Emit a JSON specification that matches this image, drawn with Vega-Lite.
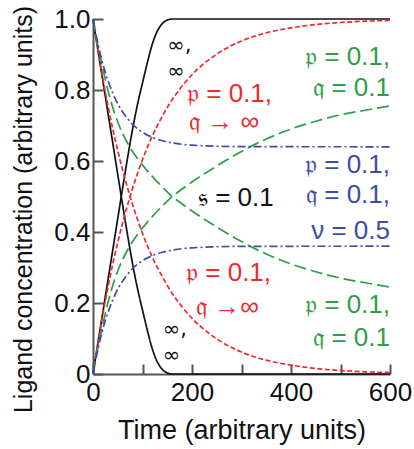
{
  "$schema": "https://vega.github.io/schema/vega-lite/v6.json",
  "width": 297,
  "height": 355,
  "autosize": {"type": "none"},
  "padding": {"left": 93, "top": 19, "right": 24, "bottom": 75},
  "background": "white",
  "config": {
    "view": {"stroke": null},
    "font": "Liberation Sans",
    "axis": {"grid": false, "domainColor": "#555", "tickColor": "#555", "domainWidth": 2, "tickWidth": 2, "labelColor": "#111", "titleColor": "#111", "titleFontWeight": "normal", "labelFlush": false, "labelOverlap": false}
  },
  "layer": [
    {
      "data": {"values": [
        {"g":"inf","d":"dn","t":0,"v":1},{"g":"inf","d":"dn","t":10,"v":0.912},{"g":"inf","d":"dn","t":20,"v":0.825},{"g":"inf","d":"dn","t":30,"v":0.737},{"g":"inf","d":"dn","t":40,"v":0.65},{"g":"inf","d":"dn","t":50,"v":0.562},{"g":"inf","d":"dn","t":60,"v":0.475},{"g":"inf","d":"dn","t":70,"v":0.39},{"g":"inf","d":"dn","t":80,"v":0.31},{"g":"inf","d":"dn","t":90,"v":0.24},{"g":"inf","d":"dn","t":100,"v":0.18},{"g":"inf","d":"dn","t":110,"v":0.122},{"g":"inf","d":"dn","t":120,"v":0.07},{"g":"inf","d":"dn","t":130,"v":0.034},{"g":"inf","d":"dn","t":140,"v":0.013},{"g":"inf","d":"dn","t":150,"v":0.003},{"g":"inf","d":"dn","t":160,"v":0},{"g":"inf","d":"dn","t":600,"v":0},
        {"g":"inf","d":"up","t":0,"v":0},{"g":"inf","d":"up","t":10,"v":0.088},{"g":"inf","d":"up","t":20,"v":0.175},{"g":"inf","d":"up","t":30,"v":0.263},{"g":"inf","d":"up","t":40,"v":0.35},{"g":"inf","d":"up","t":50,"v":0.438},{"g":"inf","d":"up","t":60,"v":0.525},{"g":"inf","d":"up","t":70,"v":0.61},{"g":"inf","d":"up","t":80,"v":0.69},{"g":"inf","d":"up","t":90,"v":0.76},{"g":"inf","d":"up","t":100,"v":0.82},{"g":"inf","d":"up","t":110,"v":0.878},{"g":"inf","d":"up","t":120,"v":0.93},{"g":"inf","d":"up","t":130,"v":0.966},{"g":"inf","d":"up","t":140,"v":0.987},{"g":"inf","d":"up","t":150,"v":0.997},{"g":"inf","d":"up","t":160,"v":1},{"g":"inf","d":"up","t":600,"v":1},
        {"g":"qinf","d":"dn","t":0,"v":1},{"g":"qinf","d":"dn","t":10,"v":0.9116},{"g":"qinf","d":"dn","t":20,"v":0.831},{"g":"qinf","d":"dn","t":30,"v":0.757},{"g":"qinf","d":"dn","t":40,"v":0.69},{"g":"qinf","d":"dn","t":50,"v":0.629},{"g":"qinf","d":"dn","t":60,"v":0.574},{"g":"qinf","d":"dn","t":70,"v":0.523},{"g":"qinf","d":"dn","t":80,"v":0.477},{"g":"qinf","d":"dn","t":90,"v":0.435},{"g":"qinf","d":"dn","t":100,"v":0.396},{"g":"qinf","d":"dn","t":120,"v":0.329},{"g":"qinf","d":"dn","t":140,"v":0.274},{"g":"qinf","d":"dn","t":160,"v":0.227},{"g":"qinf","d":"dn","t":180,"v":0.189},{"g":"qinf","d":"dn","t":200,"v":0.157},{"g":"qinf","d":"dn","t":250,"v":0.099},{"g":"qinf","d":"dn","t":300,"v":0.062},{"g":"qinf","d":"dn","t":350,"v":0.039},{"g":"qinf","d":"dn","t":400,"v":0.025},{"g":"qinf","d":"dn","t":450,"v":0.0155},{"g":"qinf","d":"dn","t":500,"v":0.0098},{"g":"qinf","d":"dn","t":550,"v":0.0062},{"g":"qinf","d":"dn","t":600,"v":0.0039},
        {"g":"qinf","d":"up","t":0,"v":0},{"g":"qinf","d":"up","t":10,"v":0.0884},{"g":"qinf","d":"up","t":20,"v":0.169},{"g":"qinf","d":"up","t":30,"v":0.243},{"g":"qinf","d":"up","t":40,"v":0.31},{"g":"qinf","d":"up","t":50,"v":0.371},{"g":"qinf","d":"up","t":60,"v":0.426},{"g":"qinf","d":"up","t":70,"v":0.477},{"g":"qinf","d":"up","t":80,"v":0.523},{"g":"qinf","d":"up","t":90,"v":0.565},{"g":"qinf","d":"up","t":100,"v":0.604},{"g":"qinf","d":"up","t":120,"v":0.671},{"g":"qinf","d":"up","t":140,"v":0.726},{"g":"qinf","d":"up","t":160,"v":0.773},{"g":"qinf","d":"up","t":180,"v":0.811},{"g":"qinf","d":"up","t":200,"v":0.843},{"g":"qinf","d":"up","t":250,"v":0.901},{"g":"qinf","d":"up","t":300,"v":0.938},{"g":"qinf","d":"up","t":350,"v":0.961},{"g":"qinf","d":"up","t":400,"v":0.975},{"g":"qinf","d":"up","t":450,"v":0.9845},{"g":"qinf","d":"up","t":500,"v":0.9902},{"g":"qinf","d":"up","t":550,"v":0.9938},{"g":"qinf","d":"up","t":600,"v":0.9961},
        {"g":"pq","d":"dn","t":0,"v":1},{"g":"pq","d":"dn","t":10,"v":0.925},{"g":"pq","d":"dn","t":20,"v":0.86},{"g":"pq","d":"dn","t":30,"v":0.8},{"g":"pq","d":"dn","t":40,"v":0.75},{"g":"pq","d":"dn","t":50,"v":0.71},{"g":"pq","d":"dn","t":60,"v":0.677},{"g":"pq","d":"dn","t":70,"v":0.65},{"g":"pq","d":"dn","t":80,"v":0.627},{"g":"pq","d":"dn","t":90,"v":0.607},{"g":"pq","d":"dn","t":100,"v":0.589},{"g":"pq","d":"dn","t":120,"v":0.556},{"g":"pq","d":"dn","t":140,"v":0.527},{"g":"pq","d":"dn","t":160,"v":0.5},{"g":"pq","d":"dn","t":180,"v":0.479},{"g":"pq","d":"dn","t":200,"v":0.459},{"g":"pq","d":"dn","t":250,"v":0.414},{"g":"pq","d":"dn","t":300,"v":0.373},{"g":"pq","d":"dn","t":350,"v":0.338},{"g":"pq","d":"dn","t":400,"v":0.31},{"g":"pq","d":"dn","t":450,"v":0.288},{"g":"pq","d":"dn","t":500,"v":0.27},{"g":"pq","d":"dn","t":550,"v":0.257},{"g":"pq","d":"dn","t":600,"v":0.245},
        {"g":"pq","d":"up","t":0,"v":0},{"g":"pq","d":"up","t":10,"v":0.075},{"g":"pq","d":"up","t":20,"v":0.14},{"g":"pq","d":"up","t":30,"v":0.2},{"g":"pq","d":"up","t":40,"v":0.25},{"g":"pq","d":"up","t":50,"v":0.29},{"g":"pq","d":"up","t":60,"v":0.323},{"g":"pq","d":"up","t":70,"v":0.35},{"g":"pq","d":"up","t":80,"v":0.373},{"g":"pq","d":"up","t":90,"v":0.393},{"g":"pq","d":"up","t":100,"v":0.411},{"g":"pq","d":"up","t":120,"v":0.444},{"g":"pq","d":"up","t":140,"v":0.473},{"g":"pq","d":"up","t":160,"v":0.5},{"g":"pq","d":"up","t":180,"v":0.521},{"g":"pq","d":"up","t":200,"v":0.541},{"g":"pq","d":"up","t":250,"v":0.586},{"g":"pq","d":"up","t":300,"v":0.627},{"g":"pq","d":"up","t":350,"v":0.662},{"g":"pq","d":"up","t":400,"v":0.69},{"g":"pq","d":"up","t":450,"v":0.712},{"g":"pq","d":"up","t":500,"v":0.73},{"g":"pq","d":"up","t":550,"v":0.743},{"g":"pq","d":"up","t":600,"v":0.755},
        {"g":"pqv","d":"dn","t":0,"v":1},{"g":"pqv","d":"dn","t":10,"v":0.93},{"g":"pqv","d":"dn","t":20,"v":0.873},{"g":"pqv","d":"dn","t":30,"v":0.828},{"g":"pqv","d":"dn","t":40,"v":0.791},{"g":"pqv","d":"dn","t":50,"v":0.761},{"g":"pqv","d":"dn","t":60,"v":0.738},{"g":"pqv","d":"dn","t":70,"v":0.719},{"g":"pqv","d":"dn","t":80,"v":0.703},{"g":"pqv","d":"dn","t":90,"v":0.691},{"g":"pqv","d":"dn","t":100,"v":0.681},{"g":"pqv","d":"dn","t":120,"v":0.6665},{"g":"pqv","d":"dn","t":140,"v":0.657},{"g":"pqv","d":"dn","t":160,"v":0.651},{"g":"pqv","d":"dn","t":180,"v":0.647},{"g":"pqv","d":"dn","t":200,"v":0.6447},{"g":"pqv","d":"dn","t":250,"v":0.6416},{"g":"pqv","d":"dn","t":300,"v":0.6405},{"g":"pqv","d":"dn","t":600,"v":0.64},
        {"g":"pqv","d":"up","t":0,"v":0},{"g":"pqv","d":"up","t":10,"v":0.07},{"g":"pqv","d":"up","t":20,"v":0.127},{"g":"pqv","d":"up","t":30,"v":0.172},{"g":"pqv","d":"up","t":40,"v":0.209},{"g":"pqv","d":"up","t":50,"v":0.239},{"g":"pqv","d":"up","t":60,"v":0.262},{"g":"pqv","d":"up","t":70,"v":0.281},{"g":"pqv","d":"up","t":80,"v":0.297},{"g":"pqv","d":"up","t":90,"v":0.309},{"g":"pqv","d":"up","t":100,"v":0.319},{"g":"pqv","d":"up","t":120,"v":0.3335},{"g":"pqv","d":"up","t":140,"v":0.343},{"g":"pqv","d":"up","t":160,"v":0.349},{"g":"pqv","d":"up","t":180,"v":0.353},{"g":"pqv","d":"up","t":200,"v":0.3553},{"g":"pqv","d":"up","t":250,"v":0.3584},{"g":"pqv","d":"up","t":300,"v":0.3595},{"g":"pqv","d":"up","t":600,"v":0.36}
      ]},
      "mark": {"type": "line", "interpolate": "monotone", "strokeWidth": 1.7},
      "encoding": {
        "x": {"field": "t", "type": "quantitative", "scale": {"domain": [0, 600], "nice": false},
          "axis": {"values": [0,100,200,300,400,500,600], "labelExpr": "datum.value % 200 === 0 ? datum.label : ''", "tickSize": -10, "labelPadding": 15, "labelFontSize": 26, "title": "Time (arbitrary units)", "titleFontSize": 27, "titleBaseline": "alphabetic", "titleY": 64}},
        "y": {"field": "v", "type": "quantitative", "scale": {"domain": [0, 1], "nice": false},
          "axis": {"values": [0,0.2,0.4,0.6,0.8,1], "labelExpr": "datum.value === 0 ? '0' : format(datum.value, '.1f')", "tickSize": -10, "labelPadding": 13, "labelFontSize": 26, "title": "Ligand concentration (arbitrary units)", "titleFontSize": 25, "titleBaseline": "alphabetic", "titleX": -62, "titleY": 190}},
        "color": {"field": "g", "type": "nominal", "legend": null, "scale": {"domain": ["inf","qinf","pq","pqv"], "range": ["#111111","#ee2a2d","#2f9e48","#3c4ca8"]}},
        "strokeDash": {"field": "g", "type": "nominal", "legend": null, "scale": {"domain": ["inf","qinf","pq","pqv"], "range": [[1,0],[5,2.5],[12,5],[8,3,2,3]]}},
        "detail": {"field": "d"}
      }
    },
    {
      "data": {"values": [
        {"t":150,"v":0.925,"label":"∞,\n∞","g":"inf"},
        {"t":141,"v":0.125,"label":"∞,\n∞","g":"inf"}
      ]},
      "mark": {"type": "text", "align": "left", "baseline": "middle", "font": "DejaVu Sans", "fontSize": 21, "lineBreak": "\n", "lineHeight": 26},
      "encoding": {
        "x": {"field": "t", "type": "quantitative"},
        "y": {"field": "v", "type": "quantitative"},
        "text": {"field": "label"},
        "color": {"field": "g", "type": "nominal", "legend": null}
      }
    },
    {
      "data": {"values": [
        {"t":212,"v":0.496,"label":"𝔰 = 0.1","g":"inf"},
        {"t":190,"v":0.789,"label":"𝔭 = 0.1,","g":"qinf"},
        {"t":194,"v":0.71,"label":"𝔮 → ∞","g":"qinf"},
        {"t":188,"v":0.285,"label":"𝔭 = 0.1,","g":"qinf"},
        {"t":208,"v":0.189,"label":"𝔮 →∞","g":"qinf"}
      ]},
      "mark": {"type": "text", "align": "left", "baseline": "middle", "fontSize": 26},
      "encoding": {
        "x": {"field": "t", "type": "quantitative"},
        "y": {"field": "v", "type": "quantitative"},
        "text": {"field": "label"},
        "color": {"field": "g", "type": "nominal", "legend": null}
      }
    },
    {
      "data": {"values": [
        {"t":600,"v":0.893,"label":"𝔭 = 0.1,","g":"pq"},
        {"t":600,"v":0.806,"label":"𝔮 = 0.1","g":"pq"},
        {"t":600,"v":0.194,"label":"𝔭 = 0.1,","g":"pq"},
        {"t":600,"v":0.101,"label":"𝔮 = 0.1","g":"pq"},
        {"t":600,"v":0.589,"label":"𝔭 = 0.1,","g":"pqv"},
        {"t":600,"v":0.505,"label":"𝔮 = 0.1,","g":"pqv"},
        {"t":600,"v":0.403,"label":"ν = 0.5","g":"pqv"}
      ]},
      "mark": {"type": "text", "align": "right", "baseline": "middle", "fontSize": 26},
      "encoding": {
        "x": {"field": "t", "type": "quantitative"},
        "y": {"field": "v", "type": "quantitative"},
        "text": {"field": "label"},
        "color": {"field": "g", "type": "nominal", "legend": null}
      }
    }
  ]
}
